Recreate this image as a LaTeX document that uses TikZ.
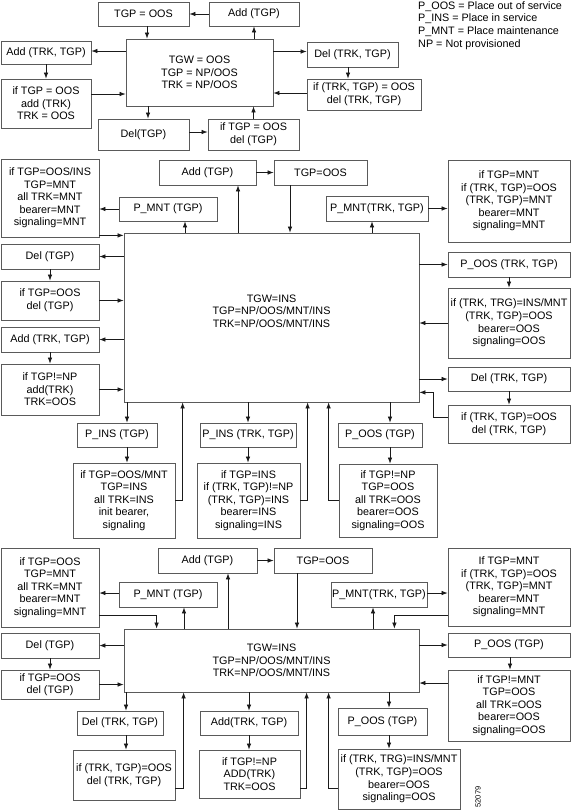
\documentclass[tikz,border=0pt]{standalone}
\usepackage{fontspec}
\setmainfont{Liberation Sans}
\usetikzlibrary{arrows.meta, positioning, calc}
\definecolor{tgwline}{HTML}{5A5A5A}
\definecolor{tgwarrow}{HTML}{1A1A1A}
\tikzset{
  box/.style={rectangle, draw=tgwline, line width=0.8pt, fill=white, align=center, inner sep=1pt,
    font=\fontsize{10.8}{12.6}\selectfont},
  sz/.style 2 args={minimum width=#1, minimum height=#2},
  arr/.style={-{Latex[length=6pt, width=4.5pt]}, line width=0.7pt, tgwarrow},
}

\begin{document}
\begin{tikzpicture}[x=1pt, y=-1pt]
    \useasboundingbox (0,0) rectangle (573,811);
    \node[box, sz={91}{24}] (tgpA) at (143.5,14) {TGP = OOS};
    \node[box, sz={90}{24}] (addA) at (254,14) {Add (TGP)};
    \node[box, sz={147}{67}] (mainA) at (199.5,72.5) {TGW = OOS\\TGP = NP/OOS\\TRK = NP/OOS};
    \node[box, sz={90}{23}] (addtrkA) at (46,52.5) {Add (TRK, TGP)};
    \node[box, sz={90}{49}] (iftgpA) at (46,103.5) {if TGP = OOS\\add (TRK)\\TRK = OOS};
    \node[box, sz={91}{31}] (deltgpA) at (143.5,134.5) {Del(TGP)};
    \node[box, sz={91}{31}] (ifdelA) at (253.5,134.5) {if TGP = OOS\\del (TGP)};
    \node[box, sz={91}{25}] (deltrkA) at (352.5,54.5) {Del (TRK, TGP)};
    \node[box, sz={114}{31}] (ifdeltrkA) at (364,94.5) {if (TRK, TGP) = OOS\\del (TRK, TGP)};
    \node[anchor=north west, align=left, inner sep=0pt, font=\fontsize{10.8}{12.8}\selectfont] (legend) at (418,1)
      {P\_OOS = Place out of service\\P\_INS = Place in service\\P\_MNT = Place maintenance\\NP = Not provisioned};

    \draw[arr] (addA) -- (tgpA);
    \draw[arr] ([xshift=3.5pt]tgpA.south) -- ([xshift=3.5pt]tgpA.south |- mainA.north);
    \draw[arr] (addA.south |- mainA.north) -- (addA.south);
    \draw[arr] ([yshift=1.5pt]mainA.west |- addtrkA.east) -- ([yshift=1.5pt]addtrkA.east);
    \draw[arr] (addtrkA) -- (iftgpA);
    \draw[arr] ([yshift=9.5pt]iftgpA.east) -- ([yshift=9.5pt]iftgpA.east -| mainA.west);
    \draw[arr] ([xshift=4.5pt]deltgpA.north |- mainA.south) -- ([xshift=4.5pt]deltgpA.north);
    \draw[arr] ([yshift=2.5pt]deltgpA.east) -- ([yshift=2.5pt]ifdelA.west);
    \draw[arr] (ifdelA.north) -- (ifdelA.north |- mainA.south);
    \draw[arr] ([yshift=3pt]mainA.east |- deltrkA.west) -- ([yshift=3pt]deltrkA.west);
    \draw[arr] ([xshift=-4.5pt]deltrkA.south) -- ([xshift=-4.5pt]deltrkA.south |- ifdeltrkA.north);
    \draw[arr] ([yshift=1.5pt]ifdeltrkA.west) -- ([yshift=1.5pt]ifdeltrkA.west -| mainA.east);

    \node[box, sz={97}{25}] (addB) at (207.5,172.5) {Add (TGP)};
    \node[box, sz={93}{25}] (tgpB) at (320.5,172.5) {TGP=OOS};
    \node[box, sz={98}{78}] (ifmntB) at (50,198) {if TGP=OOS/INS\\TGP=MNT\\all TRK=MNT\\bearer=MNT\\signaling=MNT};
    \node[box, sz={98}{24}] (pmntB) at (168,209) {P\_MNT (TGP)};
    \node[box, sz={295}{169}] (mainB) at (271.5,317.5) {TGW=INS\\TGP=NP/OOS/MNT/INS\\TRK=NP/OOS/MNT/INS\\\mbox{}};
    \node[box, sz={98}{25}] (delB) at (50,256.5) {Del (TGP)};
    \node[box, sz={98}{39}] (ifdelB) at (50,300.5) {if TGP=OOS\\del (TGP)};
    \node[box, sz={98}{25}] (addtrkB) at (50,339.5) {Add (TRK, TGP)};
    \node[box, sz={98}{51}] (ifaddB) at (50,389.5) {if TGP!=NP\\add(TRK)\\TRK=OOS};
    \node[box, sz={102}{25}] (pmnttrkB) at (377,208.5) {P\_MNT(TRK, TGP)};
    \node[box, sz={122}{82}] (ifmnttrkB) at (509,201) {if TGP=MNT\\if (TRK, TGP)=OOS\\(TRK, TGP)=MNT\\bearer=MNT\\signaling=MNT};
    \node[box, sz={122}{25}] (poostrkB) at (509,264.5) {P\_OOS (TRK, TGP)};
    \node[box, sz={122}{70}] (ifoostrkB) at (509,323) {if (TRK, TRG)=INS/MNT\\(TRK, TGP)=OOS\\bearer=OOS\\signaling=OOS};
    \node[box, sz={122}{24}] (deltrkB) at (509,379) {Del (TRK, TGP)};
    \node[box, sz={122}{38}] (ifdeltrkB) at (509,424) {if (TRK, TGP)=OOS\\del (TRK, TGP)};
    \node[box, sz={80}{24}] (pinsB) at (117,435) {P\_INS (TGP)};
    \node[box, sz={102}{75}] (ifinsB) at (124,500.5) {if TGP=OOS/MNT\\TGP=INS\\all TRK=INS\\init bearer,\\signaling};
    \node[box, sz={96}{24}] (pinstrkB) at (248,435) {P\_INS (TRK, TGP)};
    \node[box, sz={103}{75}] (ifinstrkB) at (248.5,500.5) {if TGP=INS\\if (TRK, TGP)!=NP\\(TRK, TGP)=INS\\bearer=INS\\signaling=INS};
    \node[box, sz={84}{24}] (poosB) at (380,435) {P\_OOS (TGP)};
    \node[box, sz={98}{73}] (ifoosB) at (388,500.5) {if TGP!=NP\\TGP=OOS\\all TRK=OOS\\bearer=OOS\\signaling=OOS};

    \draw[arr] (addB) -- (tgpB);
    \draw[arr] ([xshift=-30.5pt]tgpB.south) -- ([xshift=-30.5pt]tgpB.south |- mainB.north);
    \draw[arr] ([xshift=30.5pt]addB.south |- mainB.north) -- ([xshift=30.5pt]addB.south);
    \draw[arr] ([xshift=17pt]pmntB.south |- mainB.north) -- ([xshift=17pt]pmntB.south);
    \draw[arr] (pmntB.west) -- (pmntB.west -| ifmntB.east);
    \draw[arr] ([yshift=2pt]ifmntB.south east) -- ([yshift=2pt]ifmntB.south east -| mainB.west);
    \draw[arr] (mainB.west |- delB.east) -- (delB.east);
    \draw[arr] (delB) -- (ifdelB);
    \draw[arr] (ifdelB.east) -- (ifdelB.east -| mainB.west);
    \draw[arr] (mainB.west |- addtrkB.east) -- (addtrkB.east);
    \draw[arr] (addtrkB) -- (ifaddB);
    \draw[arr] (ifaddB.east) -- (ifaddB.east -| mainB.west);
    \draw[arr] ([xshift=-5pt]pmnttrkB.south |- mainB.north) -- ([xshift=-5pt]pmnttrkB.south);
    \draw[arr] (pmnttrkB.east) -- (pmnttrkB.east -| ifmnttrkB.west);
    \draw[arr] (mainB.east |- poostrkB.west) -- (poostrkB.west);
    \draw[arr] (poostrkB) -- (ifoostrkB);
    \draw[arr] (ifoostrkB.west) -- (ifoostrkB.west -| mainB.east);
    \draw[arr] (mainB.east |- deltrkB.west) -- (deltrkB.west);
    \draw[arr] (deltrkB) -- (ifdeltrkB);
    \draw[arr] ([yshift=7pt]ifdeltrkB.west) -| ([xshift=14pt]mainB.south east) |- ([yshift=10pt]mainB.south east);
    \draw[arr] ([xshift=10pt]pinsB.north |- mainB.south) -- ([xshift=10pt]pinsB.north);
    \draw[arr] ([xshift=10pt]pinsB.south) -- ([xshift=10pt]pinsB.south |- ifinsB.north);
    \draw[arr] (ifinsB.east) -| ([xshift=59pt]mainB.south west);
    \draw[arr] (pinstrkB.north |- mainB.south) -- (pinstrkB.north);
    \draw[arr] (pinstrkB.south) -- (pinstrkB.south |- ifinstrkB.north);
    \draw[arr] (ifinstrkB.east) -| ([xshift=184pt]mainB.south west);
    \draw[arr] ([xshift=10pt]poosB.north |- mainB.south) -- ([xshift=10pt]poosB.north);
    \draw[arr] ([xshift=10pt]poosB.south) -- ([xshift=10pt]poosB.south |- ifoosB.north);
    \draw[arr] (ifoosB.west) -| ([xshift=205pt]mainB.south west);

    \node[box, sz={99}{25}] (addC) at (207.5,560.5) {Add (TGP)};
    \node[box, sz={98}{25}] (tgpC) at (323,560.5) {TGP=OOS};
    \node[box, sz={98}{79}] (ifmntC) at (50,587.5) {if TGP=OOS\\TGP=MNT\\all TRK=MNT\\bearer=MNT\\signaling=MNT};
    \node[box, sz={98}{25}] (pmntC) at (168,594.5) {P\_MNT (TGP)};
    \node[box, sz={295}{63}] (mainC) at (271.5,660.5) {TGW=INS\\TGP=NP/OOS/MNT/INS\\TRK=NP/OOS/MNT/INS};
    \node[box, sz={98}{25}] (delC) at (50,645.5) {Del (TGP)};
    \node[box, sz={98}{29}] (ifdelC) at (50,684.5) {if TGP=OOS\\del (TGP)};
    \node[box, sz={86}{24}] (deltrkC) at (120,723) {Del (TRK, TGP)};
    \node[box, sz={102}{50}] (ifdeltrkC) at (124,775) {if (TRK, TGP)=OOS\\del (TRK, TGP)};
    \node[box, sz={98}{24}] (addtrkC) at (249,723) {Add(TRK, TGP)};
    \node[box, sz={101}{48}] (ifaddC) at (249.5,774) {if TGP!=NP\\ADD(TRK)\\TRK=OOS};
    \node[box, sz={89}{27}] (poosC) at (382.5,721.5) {P\_OOS (TGP)};
    \node[box, sz={122}{60}] (ifoostrkC) at (399,779) {if (TRK, TRG)=INS/MNT\\(TRK, TGP)=OOS\\bearer=OOS\\signaling=OOS};
    \node[box, sz={96}{25}] (pmnttrkC) at (379,594.5) {P\_MNT(TRK, TGP)};
    \node[box, sz={122}{78}] (ifmnttrkC) at (509,587) {If TGP=MNT\\if (TRK, TGP)=OOS\\(TRK, TGP)=MNT\\bearer=MNT\\signaling=MNT};
    \node[box, sz={122}{24}] (poostgpC) at (509,645) {P\_OOS (TGP)};
    \node[box, sz={122}{71}] (ifnotmntC) at (509,705.5) {if TGP!=MNT\\TGP=OOS\\all TRK=OOS\\bearer=OOS\\signaling=OOS};
    \node[rotate=90, inner sep=0pt, font=\fontsize{7.5}{8}\selectfont] (fignum) at (478,797) {52079};

    \draw[arr] (addC) -- (tgpC);
    \draw[arr] ([xshift=-26pt]tgpC.south) -- ([xshift=-26pt]tgpC.south |- mainC.north);
    \draw[arr] ([xshift=20.5pt]addC.south |- mainC.north) -- ([xshift=20.5pt]addC.south);
    \draw[arr] ([xshift=16pt]pmntC.south |- mainC.north) -- ([xshift=16pt]pmntC.south);
    \draw[arr] ([yshift=1.5pt]pmntC.west) -- ([yshift=1.5pt]pmntC.west -| ifmntC.east);
    \draw[arr] ([yshift=12pt]ifmntC.south east) -| ([xshift=33pt]mainC.north west);
    \draw[arr] (mainC.west |- delC.east) -- (delC.east);
    \draw[arr] (delC) -- (ifdelC);
    \draw[arr] (ifdelC.east) -- (ifdelC.east -| mainC.west);
    \draw[arr] ([xshift=6pt]deltrkC.north |- mainC.south) -- ([xshift=6pt]deltrkC.north);
    \draw[arr] ([xshift=6pt]deltrkC.south) -- ([xshift=6pt]deltrkC.south |- ifdeltrkC.north);
    \draw[arr] ([yshift=12pt]ifdeltrkC.south east) -| ([xshift=60pt]mainC.south west);
    \draw[arr] (addtrkC.north |- mainC.south) -- (addtrkC.north);
    \draw[arr] (addtrkC.south) -- (addtrkC.south |- ifaddC.north);
    \draw[arr] ([yshift=10pt]ifaddC.south east) -| ([xshift=183pt]mainC.south west);
    \draw[arr] ([xshift=6.5pt]poosC.north |- mainC.south) -- ([xshift=6.5pt]poosC.north);
    \draw[arr] ([xshift=6.5pt]poosC.south) -- ([xshift=6.5pt]poosC.south |- ifoostrkC.north);
    \draw[arr] ([yshift=-9pt]ifoostrkC.west) -| ([xshift=205pt]mainC.south west);
    \draw[arr] ([xshift=-6pt]pmnttrkC.south |- mainC.north) -- ([xshift=-6pt]pmnttrkC.south);
    \draw[arr] ([yshift=1.5pt]pmnttrkC.east) -- ([yshift=1.5pt]pmnttrkC.east -| ifmnttrkC.west);
    \draw[arr] ([yshift=11pt]ifmnttrkC.south west) -| ([xshift=-25pt]mainC.north east);
    \draw[arr] (mainC.east |- poostgpC.west) -- (poostgpC.west);
    \draw[arr] ([xshift=1pt]poostgpC.south) -- ([xshift=1pt]poostgpC.south |- ifnotmntC.north);
    \draw[arr] ([yshift=22.5pt]ifnotmntC.west) -- ([yshift=22.5pt]ifnotmntC.west -| mainC.east);
\end{tikzpicture}
\end{document}
